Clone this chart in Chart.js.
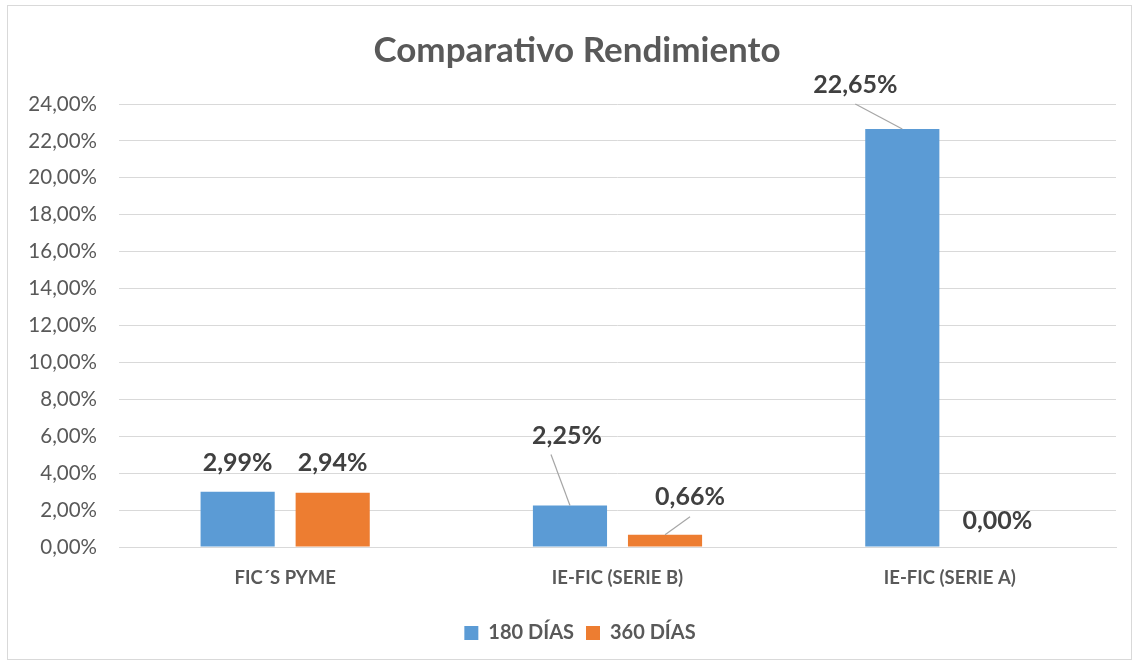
<!DOCTYPE html>
<html>
<head>
<meta charset="utf-8">
<script src="https://cdn.jsdelivr.net/npm/chart.js@4"></script>
<style>
  body { margin: 0; background: #fff; }
  #wrap { position: absolute; left: 0; top: 0; width: 1139px; height: 666px; }
</style>
</head>
<body>
<div id="wrap"><canvas id="chart"></canvas></div>
<script>
// data
const categories = ['FIC\u00b4S PYME', 'IE-FIC (SERIE B)', 'IE-FIC (SERIE A)'];
const seriesNames = ['180 D\u00cdAS', '360 D\u00cdAS'];
const dias180 = [2.99, 2.25, 22.65];
const dias360 = [2.94, 0.66, 0.00];

const FONT = 'Lato, "Open Sans", sans-serif';

// label placement relative to bar top [dx, dy, leader line?]
const labelPos = [
  [[0, -29, false], [-3, -70, true], [-47, -44, true]],
  [[0, -30, false], [25, -38, true], [0, -26, false]]
];

const fmt = v => v.toFixed(2).replace('.', ',') + '%';

const frame = {
  id: 'frame',
  beforeDraw(chart) {
    const ctx = chart.ctx;
    ctx.save();
    ctx.fillStyle = '#fff';
    ctx.fillRect(0, 0, chart.width, chart.height);
    ctx.strokeStyle = '#d9d9d9';
    ctx.lineWidth = 1;
    ctx.strokeRect(7.5, 5.5, 1124, 654);
    ctx.restore();
  },
  // Excel centres title and legend on the whole frame, not on the left edge
  afterLayout(chart) {
    chart.titleBlock.left += 38;
    chart.legend.left += 44;
  }
};

const dataLabels = {
  id: 'dataLabels',
  afterDatasetsDraw(chart) {
    const ctx = chart.ctx;
    ctx.save();
    ctx.font = 'bold 25px ' + FONT;
    ctx.textAlign = 'center';
    ctx.textBaseline = 'middle';
    chart.data.datasets.forEach((ds, di) => {
      chart.getDatasetMeta(di).data.forEach((bar, i) => {
        const [dx, dy, line] = labelPos[di][i];
        const lx = bar.x + dx, ly = bar.y + dy;
        if (line) {
          ctx.strokeStyle = '#a6a6a6';
          ctx.lineWidth = 1.2;
          ctx.beginPath();
          if (dx < -20) {
            ctx.moveTo(lx, ly + 19);
            ctx.lineTo(bar.x, bar.y);
          } else if (dx > 10) {
            ctx.moveTo(lx, ly + 20);
            ctx.lineTo(bar.x, bar.y);
          } else {
            ctx.moveTo(lx - 16, ly + 19);
            ctx.lineTo(bar.x, bar.y);
          }
          ctx.stroke();
        }
        ctx.fillStyle = '#404040';
        ctx.fillText(fmt(ds.data[i]), lx, ly);
      });
    });
    ctx.restore();
  }
};

new Chart(document.getElementById('chart'), {
  type: 'bar',
  data: {
    labels: categories,
    datasets: [
      { label: seriesNames[0], data: dias180, backgroundColor: '#5b9bd5' },
      { label: seriesNames[1], data: dias360, backgroundColor: '#ed7d31' }
    ]
  },
  options: {
    responsive: true,
    maintainAspectRatio: false,
    animation: false,
    datasets: { bar: { categoryPercentage: 0.572, barPercentage: 0.78 } },
    layout: { padding: { left: 0, right: 23, top: 0, bottom: 13 } },
    plugins: {
      title: {
        display: true,
        text: 'Comparativo Rendimiento',
        color: '#595959',
        font: { family: FONT, size: 35, weight: 'bold' },
        padding: { top: 30, bottom: 32 }
      },
      legend: {
        position: 'bottom',
        labels: {
          color: '#595959',
          font: { family: FONT, size: 20, weight: 'bold' },
          boxWidth: 14,
          boxHeight: 14,
          padding: 12
        }
      },
      tooltip: { enabled: false }
    },
    scales: {
      x: {
        grid: { display: false, drawTicks: false },
        border: { color: '#d9d9d9' },
        ticks: {
          color: '#595959',
          font: { family: FONT, size: 18.5, weight: 'bold' },
          padding: 20
        },
        afterFit(scale) { scale.height = 64; }
      },
      y: {
        min: 0,
        max: 24,
        grid: { color: '#d9d9d9', drawTicks: false },
        border: { display: false },
        ticks: {
          stepSize: 2,
          color: '#595959',
          font: { family: FONT, size: 20.5 },
          padding: 22,
          callback: v => fmt(v)
        },
        afterFit(scale) { scale.width = 119; }
      }
    }
  },
  plugins: [frame, dataLabels]
});
</script>
</body>
</html>
